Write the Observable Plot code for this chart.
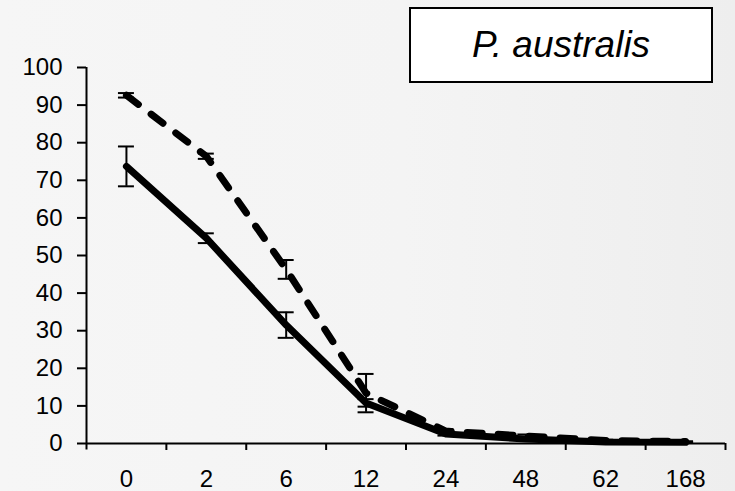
<!DOCTYPE html>
<html>
<head>
<meta charset="utf-8">
<script src="https://cdn.jsdelivr.net/npm/d3@7"></script>
<script src="https://cdn.jsdelivr.net/npm/@observablehq/plot@0.6"></script>
<style>
  html, body { margin: 0; padding: 0; }
  body {
    width: 735px; height: 491px; overflow: hidden;
    background: linear-gradient(to right, #f6f6f6 0%, #f4f4f4 55%, #eeeeee 100%);
    font-family: "Liberation Sans", Arial, sans-serif;
  }
  #wrap { position: relative; width: 735px; height: 491px; }
  #title {
    position: absolute; left: 409px; top: 7px; width: 300px; height: 72px;
    border: 2px solid #000; background: #fff;
    display: flex; align-items: center; justify-content: center;
    font-style: italic; font-size: 37px; color: #000;
  }
  svg { display: block; }
</style>
</head>
<body>
<div id="wrap">
  <div id="chart"></div>
  <div id="title">P. australis</div>
</div>
<script>
// Categories (hours) along the x axis
const hours = ["0", "2", "6", "12", "24", "48", "62", "168"];
// Solid series
const solidValues = [73.7, 54.6, 31.5, 10.8, 2.5, 1.2, 0.4, 0.3];
const solidErrors = [5.3, 1.3, 3.4, 1.0, 0.4, 0.3, 0.2, 0.1];
// Dashed series
const dashedValues = [92.6, 76.4, 46.3, 13.4, 3.3, 2.0, 0.8, 0.5];
const dashedErrors = [0.6, 0.7, 2.5, 5.1, 0.5, 0.4, 0.2, 0.1];
// Y tick values
const yTicks = [0, 10, 20, 30, 40, 50, 60, 70, 80, 90, 100];

const solid = hours.map((h, i) => ({i: i + 0.5, v: solidValues[i], e: solidErrors[i]}));
const dashed = hours.map((h, i) => ({i: i + 0.5, v: dashedValues[i], e: dashedErrors[i]}));
const capHalf = 0.1;

function errorMarks(data) {
  return [
    Plot.ruleX(data, {x: "i", y1: d => d.v - d.e, y2: d => d.v + d.e, stroke: "black", strokeWidth: 2}),
    Plot.ruleY(data, {y: d => d.v + d.e, x1: d => d.i - capHalf, x2: d => d.i + capHalf, stroke: "black", strokeWidth: 2}),
    Plot.ruleY(data, {y: d => d.v - d.e, x1: d => d.i - capHalf, x2: d => d.i + capHalf, stroke: "black", strokeWidth: 2})
  ];
}

const chart = Plot.plot({
  width: 735,
  height: 491,
  marginLeft: 86,
  marginRight: 10,
  marginTop: 67,
  marginBottom: 48,
  style: {background: "transparent", fontFamily: "'Liberation Sans', Arial, sans-serif", color: "black"},
  x: {domain: [0, hours.length], axis: null},
  y: {domain: [0, 100], axis: null},
  marks: [
    Plot.axisY({ticks: yTicks, tickSize: 9, tickPadding: 15, fontSize: 24, strokeWidth: 2, label: null}),
    Plot.axisX({ticks: d3.range(1, hours.length + 1), tickSize: 7, tickFormat: () => "", strokeWidth: 2, label: null}),
    Plot.axisX({ticks: hours.map((h, i) => i + 0.5), tickSize: 0, tickPadding: 26, fontSize: 24,
      tickFormat: v => hours[Math.round(v - 0.5)], label: null}),
    Plot.ruleX([0], {y1: -1.7, y2: 100, stroke: "black", strokeWidth: 2}),
    Plot.ruleY([0], {x1: 0, x2: hours.length, stroke: "black", strokeWidth: 2}),
    ...errorMarks(dashed),
    ...errorMarks(solid),
    Plot.line(dashed, {x: "i", y: "v", stroke: "black", strokeWidth: 7, strokeDasharray: "15,16", strokeLinecap: "round"}),
    Plot.line(solid, {x: "i", y: "v", stroke: "black", strokeWidth: 7})
  ]
});
document.getElementById("chart").appendChild(chart);
</script>
</body>
</html>
